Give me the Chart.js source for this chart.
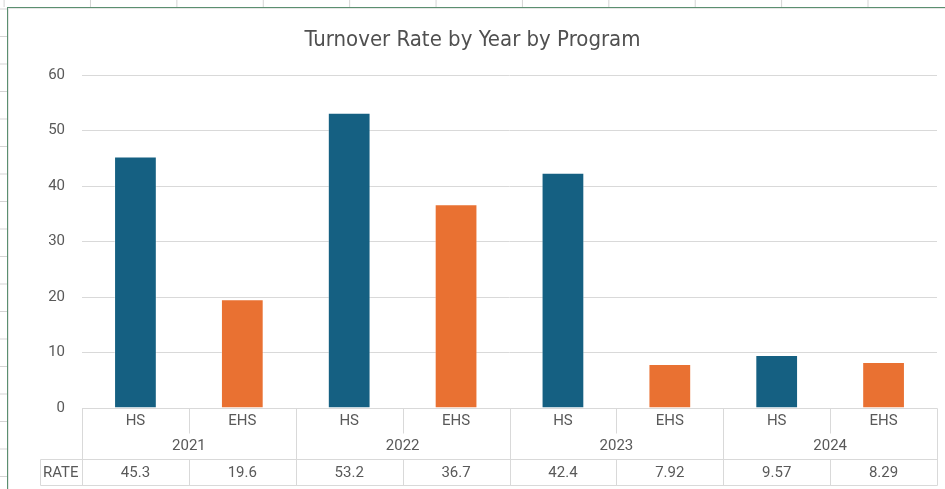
<!DOCTYPE html>
<html>
<head>
<meta charset="utf-8">
<script src="https://cdn.jsdelivr.net/npm/chart.js@4.4.1/dist/chart.umd.min.js"></script>
<style>
  html, body { margin:0; padding:0; }
  body {
    width:945px; height:489px; overflow:hidden; position:relative; background:#fff;
  }
  /* spreadsheet gridlines peeking out behind the chart */
  #sheetTop {
    position:absolute; left:0; top:0; width:945px; height:7px;
    background-image: linear-gradient(to right, #d4d4d4 0 1px, transparent 1px);
    background-size: 86.4px 7px;
    background-position: 3.6px 0;
  }
  #sheetLeft {
    position:absolute; left:0; top:0; width:7px; height:489px;
    background-image: linear-gradient(to bottom, #d4d4d4 0 1px, transparent 1px);
    background-size: 7px 27.5px;
    background-position: 0 8.5px;
  }
  #frame {
    position:absolute; left:7px; top:7px; width:938px; height:482px;
    border-top:1px solid #5b8f70; border-left:1px solid #5b8f70; box-sizing:border-box;
    background:#fff; box-shadow: inset 1px 1px 0 #e6e6e6;
  }
  #wrap { position:absolute; left:8px; top:8px; width:937px; height:481px; }
</style>
</head>
<body>
<div id="sheetTop"></div>
<div id="sheetLeft"></div>
<div id="frame"></div>
<div id="wrap"><canvas id="chart"></canvas></div>
<script>
const years = ['2021', '2022', '2023', '2024'];
const programs = ['HS', 'EHS'];
const rates = [45.3, 19.6, 53.2, 36.7, 42.4, 7.92, 9.57, 8.29];
const seriesName = 'RATE';
const yTicks = [0, 10, 20, 30, 40, 50, 60];

const programColors = { HS: '#156082', EHS: '#E97132' };
const textColor = '#595959';
const lineColor = '#d9d9d9';
const font = 'Roboto, "Liberation Sans", sans-serif';

// one category per (year, program)
const labels = [];
years.forEach(y => programs.forEach(p => labels.push(p + '|' + y)));
const barColors = labels.map(l => programColors[l.split('|')[0]]);

// Excel-like data table under the plot
const dataTable = {
  id: 'dataTable',
  afterDraw(chart) {
    const { ctx, chartArea, scales } = chart;
    const x = scales.x;
    const n = labels.length;
    const w = (chartArea.right - chartArea.left) / n;
    const left = chartArea.left, right = chartArea.right;
    const top = chartArea.bottom;
    const catBottom = top + 25;
    const rateTop = top + 51;
    const bottom = top + 77;
    const nameLeft = 32;

    ctx.save();
    ctx.strokeStyle = lineColor;
    ctx.lineWidth = 1;
    const line = (x1, y1, x2, y2) => {
      ctx.beginPath();
      ctx.moveTo(Math.round(x1) + 0.5, Math.round(y1) + 0.5);
      ctx.lineTo(Math.round(x2) + 0.5, Math.round(y2) + 0.5);
      ctx.stroke();
    };
    line(left, top, right, top);
    line(nameLeft, rateTop, right, rateTop);
    line(nameLeft, bottom, right, bottom);
    line(nameLeft, rateTop, nameLeft, bottom);
    for (let i = 0; i <= n; i++) {
      const bx = left + i * w;
      if (i % programs.length === 0) {
        line(bx, top, bx, bottom);
      } else {
        line(bx, top, bx, catBottom);
        line(bx, rateTop, bx, bottom);
      }
    }

    ctx.fillStyle = textColor;
    ctx.font = '15px ' + font;
    ctx.textBaseline = 'middle';
    ctx.textAlign = 'center';
    labels.forEach((l, i) => {
      const cx = x.getPixelForValue(i);
      ctx.fillText(l.split('|')[0], cx, top + 13);
      ctx.fillText(String(rates[i]), cx, rateTop + 14);
    });
    years.forEach((y, j) => {
      const cx = left + (j * programs.length + programs.length / 2) * w;
      ctx.fillText(y, cx, top + 38);
    });
    ctx.textAlign = 'left';
    ctx.fillText(seriesName, nameLeft + 3, rateTop + 14);
    ctx.restore();
  }
};

new Chart(document.getElementById('chart'), {
  type: 'bar',
  data: {
    labels: labels,
    datasets: [{
      label: seriesName,
      data: rates,
      backgroundColor: barColors,
      borderColor: 'rgba(255,255,255,0.35)',
      borderWidth: 1,
      barPercentage: 0.4,
      categoryPercentage: 1
    }]
  },
  options: {
    responsive: true,
    maintainAspectRatio: false,
    animation: false,
    layout: { padding: { left: 0, right: 8, top: 0, bottom: 81 } },
    plugins: {
      legend: { display: false },
      tooltip: { enabled: false },
      title: {
        display: true,
        text: 'Turnover Rate by Year by Program',
        color: '#505050',
        font: { family: '"Liberation Sans Narrow", "DejaVu Sans Condensed", sans-serif', size: 22, weight: 'normal', lineHeight: 1.2 },
        padding: { top: 19, bottom: 21.6 }
      }
    },
    scales: {
      x: { display: false },
      y: {
        min: yTicks[0],
        max: yTicks[yTicks.length - 1],
        afterBuildTicks: s => { s.ticks = yTicks.map(v => ({ value: v })); },
        afterFit: s => { s.width = 74; },
        border: { display: false },
        grid: { color: lineColor, drawTicks: false, lineWidth: 1 },
        ticks: { color: textColor, font: { family: font, size: 15 }, padding: 17 }
      }
    }
  },
  plugins: [dataTable]
});
</script>
</body>
</html>
